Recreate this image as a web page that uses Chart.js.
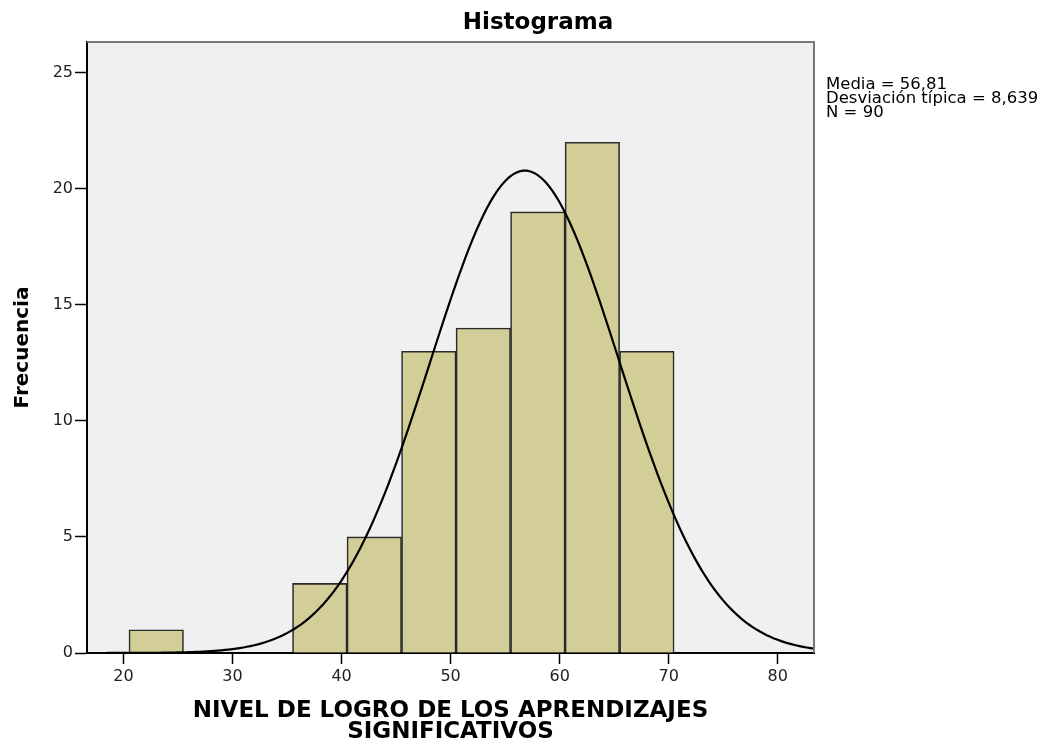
<!DOCTYPE html>
<html>
<head>
<meta charset="utf-8">
<script src="https://cdn.jsdelivr.net/npm/chart.js@4"></script>
<style>
  body { margin: 0; background: #fff; }
</style>
</head>
<body>
<canvas id="histograma" width="1046" height="745"></canvas>
<script>
// marcas de clase (centro de cada intervalo) y frecuencias
const centros = [23, 38, 43, 48, 53, 58, 63, 68];
const frecuencias = [1, 3, 5, 13, 14, 19, 22, 13];
const anchoClase = 5;

const ticksX = [20, 30, 40, 50, 60, 70, 80];
const ticksY = [0, 5, 10, 15, 20, 25];

// estadisticos de la muestra
const MEDIA = 56.81;
const DESV = 8.639;
const N = 90;

const X_MIN = 16.65, X_MAX = 83.33, Y_MAX = 26.32;

// curva normal con la media y desviacion de arriba, escalada a frecuencias
function curvaNormal() {
    let pts = [];
    let pasos = 200;
    for (let i = 0; i <= pasos; i++) {
        let x = X_MIN + (X_MAX - X_MIN) * i / pasos;
        let z = (x - MEDIA) / DESV;
        let y = N * anchoClase * Math.exp(-0.5 * z * z) / (DESV * Math.sqrt(2 * Math.PI));
        pts.push({x: x, y: y});
    }
    return pts;
}

const fuente = "'DejaVu Sans', sans-serif";

const decoracion = {
    id: 'decoracion',
    beforeDraw(chart) {
        const {ctx, chartArea: a} = chart;
        ctx.save();
        ctx.fillStyle = '#f0f0f0';
        ctx.fillRect(a.left, a.top, a.right - a.left, a.bottom - a.top);
        ctx.restore();
    },
    afterDraw(chart) {
        const {ctx, chartArea: a} = chart;
        ctx.save();
        // borde superior y derecho del area de trazado
        ctx.strokeStyle = '#777';
        ctx.lineWidth = 2;
        ctx.beginPath();
        ctx.moveTo(a.left, a.top);
        ctx.lineTo(a.right, a.top);
        ctx.lineTo(a.right, a.bottom);
        ctx.stroke();

        ctx.fillStyle = '#000';
        ctx.textAlign = 'center';
        ctx.textBaseline = 'alphabetic';
        ctx.font = "bold 23px " + fuente;
        ctx.fillText('Histograma', 538, 29);

        ctx.textAlign = 'left';
        ctx.font = "16.5px " + fuente;
        ctx.fillStyle = '#000';
        ctx.fillText('Media = ' + MEDIA.toFixed(2).replace('.', ','), 826, 89);
        ctx.fillText('Desviación típica = ' + DESV.toFixed(3).replace('.', ','), 826, 103);
        ctx.fillText('N = ' + N, 826, 117);
        ctx.restore();
    }
};

let ctx = document.getElementById('histograma').getContext('2d');

new Chart(ctx, {
    type: 'bar',
    data: {
        datasets: [
            {
                type: 'line',
                data: curvaNormal(),
                borderColor: '#000',
                borderWidth: 2.2,
                pointRadius: 0,
                tension: 0,
                order: 0
            },
            {
                type: 'bar',
                data: centros.map((c, i) => ({x: c, y: frecuencias[i]})),
                backgroundColor: 'rgb(211, 206, 152)',
                borderColor: '#2a2a2a',
                borderWidth: 1.6,
                barPercentage: 1,
                categoryPercentage: 1,
                order: 1
            }
        ]
    },
    options: {
        responsive: false,
        animation: false,
        layout: {
            padding: {left: 0, top: 42, right: 232, bottom: 0}
        },
        plugins: {
            legend: {display: false},
            tooltip: {enabled: false}
        },
        scales: {
            x: {
                type: 'linear',
                offset: false,
                min: X_MIN,
                max: X_MAX,
                afterBuildTicks: s => { s.ticks = ticksX.map(v => ({value: v})); },
                afterFit: s => { s.height = 92; },
                grid: {offset: false, drawOnChartArea: false, tickLength: 11, tickColor: '#000', tickWidth: 1.5},
                border: {color: '#000', width: 2},
                ticks: {color: '#222', padding: 3, font: {family: fuente, size: 16}},
                title: {
                    display: true,
                    text: ['NIVEL DE LOGRO DE LOS APRENDIZAJES', 'SIGNIFICATIVOS'],
                    color: '#000',
                    padding: {top: 0, bottom: 2},
                    font: {family: fuente, size: 23, weight: 'bold', lineHeight: '21px'}
                }
            },
            y: {
                min: 0,
                max: Y_MAX,
                afterBuildTicks: s => { s.ticks = ticksY.map(v => ({value: v})); },
                afterFit: s => { s.width = 87; },
                grid: {drawOnChartArea: false, tickLength: 12, tickColor: '#000', tickWidth: 1.5},
                border: {color: '#000', width: 2},
                ticks: {color: '#222', padding: 2, font: {family: fuente, size: 16}},
                title: {
                    display: true,
                    text: 'Frecuencia',
                    color: '#000',
                    padding: {top: 11, bottom: 0},
                    font: {family: fuente, size: 20, weight: 'bold'}
                }
            }
        }
    },
    plugins: [decoracion]
});
</script>
</body>
</html>
